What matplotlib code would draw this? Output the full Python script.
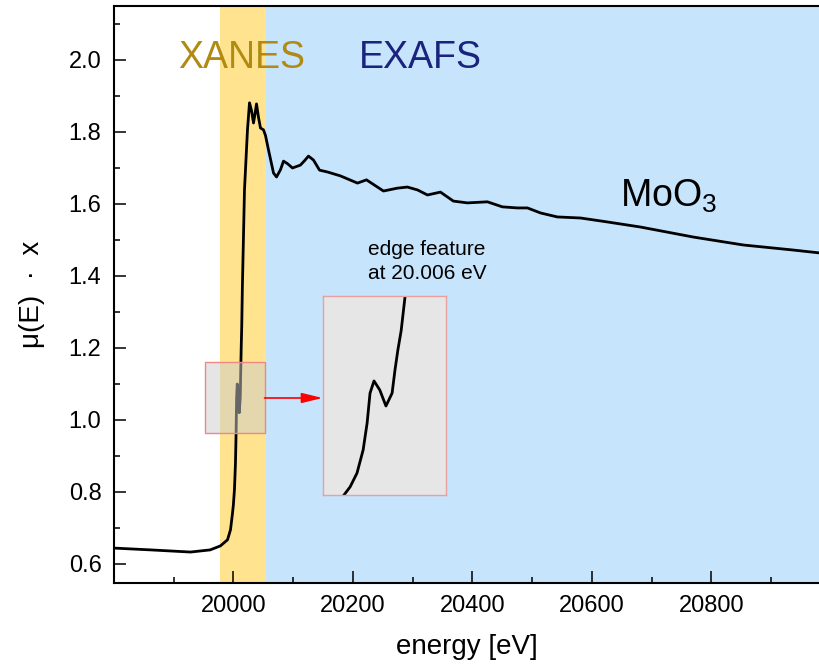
import matplotlib
matplotlib.use("Agg")
import matplotlib.pyplot as plt
from matplotlib.patches import Rectangle

plt.rcParams['font.family'] = ['Liberation Sans', 'DejaVu Sans']
plt.rcParams['mathtext.fontset'] = 'custom'
plt.rcParams['mathtext.rm'] = 'Liberation Sans'

# MoO3 absorption spectrum
energy = [19800, 19861, 19928, 19961, 19978, 19990, 19995, 19998.0, 19999.7,
          20001.6, 20003.3, 20004.4, 20005.2, 20006.3, 20007.9, 20009.6, 20011.3,
          20012.1, 20012.9, 20013.8, 20014.9, 20018.4, 20023.4, 20026.8, 20030.1,
          20033.5, 20036.0, 20038.5, 20041.9, 20045.2, 20050.2, 20053.6, 20058.6,
          20067, 20072, 20078.6, 20083.7, 20090.4, 20098.7, 20112, 20118.8,
          20125.5, 20133.9, 20144, 20157, 20179, 20207.5, 20222.6, 20251,
          20274.5, 20291, 20308, 20324.7, 20346.4, 20368, 20391.6, 20425, 20450,
          20475, 20492, 20514, 20542, 20581, 20626, 20681, 20770, 20853.5,
          20937, 20981]
mu = [0.644, 0.639, 0.633, 0.639, 0.650, 0.667, 0.695, 0.736, 0.762,
      0.806, 0.880, 0.966, 1.061, 1.100, 1.071, 1.020, 1.061,
      1.135, 1.199, 1.260, 1.371, 1.639, 1.806, 1.881, 1.860,
      1.825, 1.850, 1.878, 1.840, 1.811, 1.806, 1.790, 1.750,
      1.686, 1.675, 1.695, 1.719, 1.712, 1.700, 1.708, 1.720,
      1.733, 1.722, 1.694, 1.689, 1.678, 1.658, 1.667, 1.636,
      1.644, 1.647, 1.639, 1.625, 1.633, 1.608, 1.603, 1.606, 1.592,
      1.589, 1.589, 1.575, 1.564, 1.561, 1.550, 1.536, 1.508, 1.486,
      1.472, 1.464]

xanes_range = (19977, 20054)
exafs_range = (20054, 21000)
zoom_box = (19952, 0.964, 100, 0.197)   # x0, y0, width, height
inset_xlim = (19992.2, 20026.2)
inset_ylim = (0.736, 1.371)

fig = plt.figure(figsize=(8.19, 6.68), dpi=100)
ax = fig.add_axes([114 / 819, 1 - 583 / 668, 705 / 819, 577 / 668])

ax.axvspan(*xanes_range, color='#FFE38F', lw=0, zorder=0)
ax.axvspan(*exafs_range, color='#C6E4FB', lw=0, zorder=0)
ax.plot(energy, mu, color='black', lw=2, zorder=2, solid_joinstyle='round')

ax.add_patch(Rectangle(zoom_box[:2], zoom_box[2], zoom_box[3],
                       facecolor=(0.80, 0.80, 0.80, 0.5),
                       edgecolor='#EE8888', lw=1, zorder=3))
ax.annotate('', xy=(20149, 1.061), xytext=(zoom_box[0] + zoom_box[2], 1.061),
            arrowprops=dict(arrowstyle='-|>,head_length=0.9,head_width=0.22',
                            color='red', lw=1.2, mutation_scale=14,
                            shrinkA=0, shrinkB=0), zorder=4)

ax.text(20013, 2.005, 'XANES', color='#B08A12', fontsize=27, ha='center', va='center')
ax.text(20312, 2.005, 'EXAFS', color='#1A237E', fontsize=27, ha='center', va='center')
ax.text(20728, 1.62, r'MoO$_\mathregular{3}$', fontsize=27, ha='center', va='center')
ax.text(20225, 1.44, 'edge feature\nat 20.006 eV', fontsize=15, ha='left',
        va='center', linespacing=1.3)

ax.set_xlim(19800, 20980)
ax.set_ylim(0.547, 2.15)
ax.set_xticks([20000, 20200, 20400, 20600, 20800])
ax.set_xticks([19900, 20100, 20300, 20500, 20700, 20900], minor=True)
ax.set_yticks([0.6, 0.8, 1.0, 1.2, 1.4, 1.6, 1.8, 2.0])
ax.set_yticks([0.7, 0.9, 1.1, 1.3, 1.5, 1.7, 1.9, 2.1], minor=True)
ax.tick_params(which='both', direction='in', width=1.1, labelsize=17, pad=9)
ax.tick_params(which='major', length=8.5)
ax.tick_params(which='minor', length=4.3)
ax.spines['right'].set_visible(False)
for s in ['left', 'bottom', 'top']:
    ax.spines[s].set_linewidth(1.5)
ax.set_xlabel('energy [eV]', fontsize=20, labelpad=12)
ax.set_ylabel('μ(E)  ·  x', fontsize=20, labelpad=17)

# magnified view of the edge feature
axi = fig.add_axes([323 / 819, 1 - 495 / 668, 123 / 819, 199 / 668])
axi.set_facecolor('#E6E6E6')
axi.plot(energy, mu, color='black', lw=2, solid_joinstyle='round')
axi.set_xlim(*inset_xlim)
axi.set_ylim(*inset_ylim)
axi.set_xticks([])
axi.set_yticks([])
for s in axi.spines.values():
    s.set_color('#E8A0A0')
    s.set_linewidth(1)

fig.savefig('out.png', dpi=100)
